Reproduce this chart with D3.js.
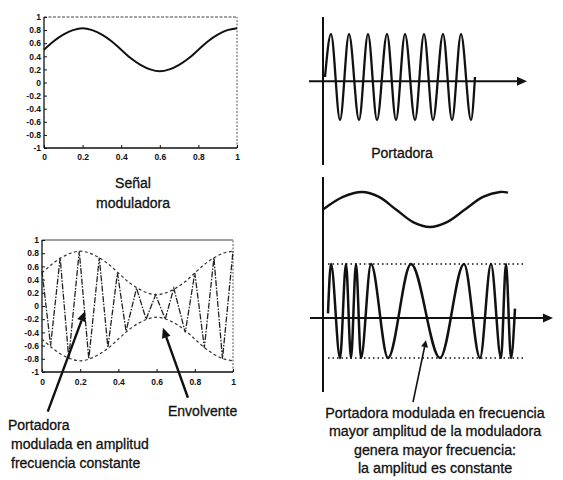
<!DOCTYPE html>
<html><head><meta charset="utf-8">
<script src="https://cdn.jsdelivr.net/npm/d3@7"></script>
<style>
body{margin:0;background:#fff;}
text{font-family:"Liberation Sans",Arial,Helvetica,sans-serif;fill:#111;}
.lbl{stroke:#111;stroke-width:0.3px;}
</style></head><body>
<script>
// ---------- DATA ----------
// Top-left: modulating signal
const modT = [0,0.05,0.1,0.15,0.2,0.25,0.3,0.35,0.4,0.45,0.5,0.55,0.6,0.65,0.7,0.75,0.8,0.85,0.9,0.95,1.0];
const modV = [0.5,0.63,0.73,0.8,0.83,0.8,0.73,0.63,0.5,0.37,0.27,0.2,0.17,0.2,0.27,0.37,0.5,0.63,0.73,0.8,0.83];
// Bottom-left: AM carrier vertices
const amT = [0,0.045,0.095,0.14,0.195,0.245,0.3,0.345,0.395,0.44,0.495,0.545,0.595,0.645,0.69,0.75,0.8,0.85,0.9,0.945,1.0];
const amV = [0.53,-0.6,0.73,-0.79,0.83,-0.8,0.73,-0.63,0.5,-0.38,0.27,-0.2,0.17,-0.2,0.27,-0.4,0.5,-0.63,0.73,-0.8,0.83];
// Axis ticks
const yTicks = [1,0.8,0.6,0.4,0.2,0,-0.2,-0.4,-0.6,-0.8,-1];
const yTickLabels = ["1","0.8","0.6","0.4","0.2","0","-0.2","-0.4","-0.6","-0.8","-1"];
const xTicks = [0,0.2,0.4,0.6,0.8,1];
const xTickLabels = ["0","0.2","0.4","0.6","0.8","1"];
// Right-top: carrier (x in arbitrary units 0..100)
const carT = [1,4,8.5,13,18,22.5,27,32,36.5,41,46,50.5,55,60,64.5,69,74,76];
const carV = [0,1,-1,1,-1,1,-1,1,-1,1,-1,1,-1,1,-1,1,-1,0];
// Right-bottom: modulating signal sketch
const rmT = [0,10,19.5,28,36.5,45,53.5,62,71,80,88.5,92.5];
const rmV = [0,0.72,1,0.72,0,-0.72,-1,-0.72,0,0.72,1,0.97];
// Right-bottom: FM carrier extrema
const fmT = [2.5,4,8.5,11.5,14,16.5,19,24,32.5,44,58.5,70.5,78.5,84,89,91.5,94,96];
const fmV = [-0.05,1,-1,1,-1,1,-1,1,-1,1,-1,1,-1,1,-1,1,-1,0.05];
// Texts
const labelModuladora = ["Señal","moduladora"];
const labelAM = ["Portadora","modulada en amplitud","frecuencia constante"];
const labelEnv = "Envolvente";
const labelPort = "Portadora";
const labelFM = ["Portadora modulada en frecuencia","mayor amplitud de la moduladora","genera mayor frecuencia:","la amplitud es constante"];

// ---------- DRAW ----------
const svg = d3.select("body").append("svg").attr("width",563).attr("height",480);

function arrow(g, x1,y1,x2,y2,len,hw,w){
  const a = Math.atan2(y2-y1,x2-x1);
  const bx = x2-len*Math.cos(a), by = y2-len*Math.sin(a);
  g.append("line").attr("x1",x1).attr("y1",y1).attr("x2",bx).attr("y2",by)
    .attr("stroke","#111").attr("stroke-width",w);
  const px = -Math.sin(a)*hw, py = Math.cos(a)*hw;
  g.append("path").attr("d",`M${x2},${y2}L${bx+px},${by+py}L${bx-px},${by-py}Z`).attr("fill","#111");
}

function matlabPanel(xr, yr, opts){
  const x = d3.scaleLinear([0,1], xr);
  const y = d3.scaleLinear([-1,1], yr);
  const g = svg.append("g");
  g.append("line").attr("x1",xr[0]).attr("x2",xr[1]).attr("y1",yr[1]).attr("y2",yr[1])
    .attr("stroke","#444").attr("stroke-width",1.2).attr("stroke-dasharray",opts.topDash||null);
  g.append("line").attr("x1",xr[1]).attr("x2",xr[1]).attr("y1",yr[0]).attr("y2",yr[1])
    .attr("stroke","#555").attr("stroke-width",1).attr("stroke-dasharray","2,1.5");
  g.append("line").attr("x1",xr[0]).attr("x2",xr[0]).attr("y1",yr[0]).attr("y2",yr[1])
    .attr("stroke","#111").attr("stroke-width",1.3);
  g.append("line").attr("x1",xr[0]).attr("x2",xr[1]).attr("y1",yr[0]).attr("y2",yr[0])
    .attr("stroke","#111").attr("stroke-width",1.5);
  const ya = g.append("g").attr("transform",`translate(${xr[0]},0)`)
    .call(d3.axisLeft(y).tickValues(yTicks).tickSize(-3).tickPadding(3)
      .tickFormat((d,i)=>yTickLabels[i]));
  const xa = g.append("g").attr("transform",`translate(0,${yr[0]})`)
    .call(d3.axisBottom(x).tickValues(xTicks).tickSize(-3).tickPadding(opts.xpad)
      .tickFormat((d,i)=>xTickLabels[i]));
  [ya,xa].forEach(a=>{
    a.select(".domain").remove();
    a.selectAll("line").attr("stroke","#111").attr("stroke-width",1);
    a.selectAll("text").attr("font-size",8.5).attr("font-weight","bold")
      .attr("font-family","'Liberation Sans',Arial,sans-serif").attr("fill","#111");
  });
  return {x,y,g};
}

// Top-left panel
const TL = matlabPanel([44,237],[148,17],{xpad:6,topDash:"3,1.5"});
TL.g.append("path").datum(modT.map((t,i)=>[t,modV[i]]))
  .attr("d",d3.line().x(d=>TL.x(d[0])).y(d=>TL.y(d[1])).curve(d3.curveCatmullRom))
  .attr("fill","none").attr("stroke","#111").attr("stroke-width",2);

// Bottom-left panel
const BL = matlabPanel([42,233],[372,240],{xpad:7});
const envLine = sgn => d3.line().x(d=>BL.x(d[0])).y(d=>BL.y(sgn*d[1])).curve(d3.curveCatmullRom);
const envData = modT.map((t,i)=>[t,modV[i]]);
[1,-1].forEach(s=>{
  BL.g.append("path").datum(envData).attr("d",envLine(s))
    .attr("fill","none").attr("stroke","#333").attr("stroke-width",1.2).attr("stroke-dasharray","3,2.5");
});
BL.g.append("path").datum(amT.map((t,i)=>[t,amV[i]]))
  .attr("d",d3.line().x(d=>BL.x(d[0])).y(d=>BL.y(d[1])))
  .attr("fill","none").attr("stroke","#222").attr("stroke-width",1.3).attr("stroke-dasharray","6,1.5,1.5,1.5");

// Left annotations (data coords of the bottom-left panel)
const annAM = {tip:[0.225,-0.08], tail:[0.03,-1.6]};
const annEnv = {tip:[0.633,-0.33], tail:[0.764,-1.39]};
[annAM,annEnv].forEach(a=>arrow(svg, BL.x(a.tail[0]),BL.y(a.tail[1]),BL.x(a.tip[0]),BL.y(a.tip[1]),10,4.5,2.4));

// Left texts
labelModuladora.forEach((s,i)=>svg.append("text").attr("class","lbl").attr("x",133).attr("y",188+i*20)
  .attr("text-anchor","middle").attr("font-size",14).text(s));
labelAM.forEach((s,i)=>svg.append("text").attr("class","lbl").attr("x",i==0?8:11).attr("y",430+i*19)
  .attr("font-size",14).text(s));
svg.append("text").attr("class","lbl").attr("x",168).attr("y",416).attr("font-size",14).text(labelEnv);

// Right panels
const xR = d3.scaleLinear([0,100],[323,523]);
const yC = d3.scaleLinear([-1,1],[120,34]);
const yM = d3.scaleLinear([-1,1],[227,192]);
const yF = d3.scaleLinear([-1,1],[358,264]);
const R = svg.append("g");

// top-right axes
R.append("line").attr("x1",xR(0)).attr("x2",xR(0)).attr("y1",17).attr("y2",165).attr("stroke","#111").attr("stroke-width",2);
arrow(R, xR(-7), yC(-0.1), xR(102), yC(-0.1), 10, 4.5, 2);
R.append("path").datum(carT.map((t,i)=>[t,carV[i]]))
  .attr("d",d3.line().x(d=>xR(d[0])).y(d=>yC(d[1])).curve(d3.curveMonotoneX))
  .attr("fill","none").attr("stroke","#111").attr("stroke-width",2.3);
svg.append("text").attr("class","lbl").attr("x",402).attr("y",158).attr("text-anchor","middle").attr("font-size",14).text(labelPort);

// bottom-right
R.append("line").attr("x1",xR(0)).attr("x2",xR(0)).attr("y1",177).attr("y2",392).attr("stroke","#111").attr("stroke-width",2);
arrow(R, xR(-6.5), yF(-0.15), xR(115), yF(-0.15), 10, 4.5, 2);
R.append("path").datum(rmT.map((t,i)=>[t,rmV[i]]))
  .attr("d",d3.line().x(d=>xR(d[0])).y(d=>yM(d[1])).curve(d3.curveCatmullRom))
  .attr("fill","none").attr("stroke","#111").attr("stroke-width",2.3);
[1,-1].forEach(v=>R.append("line").attr("x1",xR(2.5)).attr("x2",xR(100.5))
  .attr("y1",yF(v)).attr("y2",yF(v)).attr("stroke","#111").attr("stroke-width",1.5).attr("stroke-dasharray","1.5,3"));
R.append("path").datum(fmT.map((t,i)=>[t,fmV[i]]))
  .attr("d",d3.line().x(d=>xR(d[0])).y(d=>yF(d[1])).curve(d3.curveMonotoneX))
  .attr("fill","none").attr("stroke","#111").attr("stroke-width",2.5);
const annFM = {tip:[51.5,-0.62], tail:[45,-1.94]};
arrow(R, xR(annFM.tail[0]), yF(annFM.tail[1]), xR(annFM.tip[0]), yF(annFM.tip[1]), 7, 3.5, 1.6);
labelFM.forEach((s,i)=>svg.append("text").attr("class","lbl").attr("x",435).attr("y",418+i*18.3)
  .attr("text-anchor","middle").attr("font-size",14.3).text(s));
</script>
</body></html>
